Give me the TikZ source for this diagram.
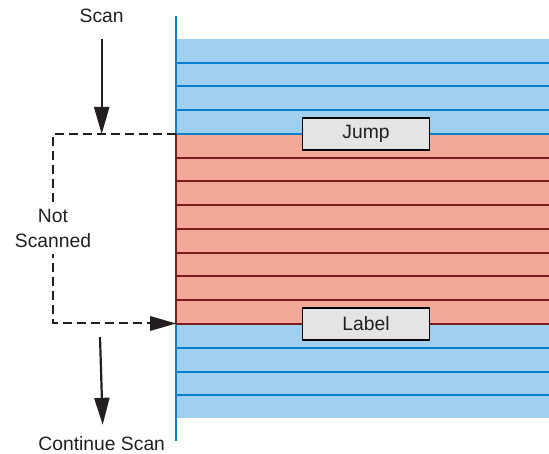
\documentclass[tikz,border=0pt]{standalone}
\usepackage{fontspec}
\setmainfont{Liberation Sans}
\usetikzlibrary{arrows.meta}
\definecolor{bandblue}{HTML}{A0D0F0}
\definecolor{ruleblue}{HTML}{0A80CC}
\definecolor{bandred}{HTML}{F4A898}
\definecolor{rulered}{HTML}{7A1C1C}
\definecolor{boxgray}{HTML}{E4E4E4}
\definecolor{ink}{HTML}{231F20}
\begin{document}
\begin{tikzpicture}[x=1pt,y=-1pt,
  lbl/.style={font=\fontsize{19.3}{25}\selectfont, text=ink, inner sep=0pt, align=center},
  tag/.style={draw=black, line width=1.5pt, fill=boxgray, minimum width=127pt,
              minimum height=32pt, inner sep=0pt, font=\fontsize{19.3}{22}\selectfont, text=ink},
  bigarrow/.style={-{Triangle[length=27pt,width=15pt]}, line width=2.2pt, draw=ink},
  skip/.style={dash pattern=on 9pt off 5pt, line width=2pt, draw=ink},
  bluerule/.style={draw=ruleblue, line width=2pt},
  redrule/.style={draw=rulered, line width=2pt}]
\useasboundingbox (0,0) rectangle (549,454);

% memory bands
\fill[bandblue] (176,39) rectangle (549,134);
\fill[bandred] (176,134) rectangle (549,324);
\fill[bandblue] (176,324) rectangle (549,418);
\foreach \y in {62.7,86.3,110,134,347.8,371.5,395.2}
  \draw[bluerule] (176,\y) -- (549,\y);
\draw[draw=ruleblue, line width=2.3pt] (176,16) -- (176,441);
\foreach \y in {157.75,181.5,205.25,229,252.75,276.5,300.25,324}
  \draw[redrule] (176,\y) -- (549,\y);
\draw[redrule] (176,134) -- (176,324);

% skipped region markers
\node[tag] (jump) at (366,134) {Jump};
\node[tag] (label) at (366,324) {Label};

% bypass path
\coordinate (jumpin) at (176,134);
\coordinate (bypass) at (53,134);
\coordinate (landing) at (176,323.5);
\draw[skip] (jumpin) -- (bypass) |- (landing);
\fill[ink] (landing) -- ++(-26,-7.5) -- ++(0,15) -- cycle;
\node[lbl, fill=white, inner sep=7pt] (notscanned) at (53,228) {Not\\Scanned};

% scan direction
\node[lbl, anchor=base] (scan) at (101.7,23) {Scan};
\coordinate (scanfrom) at (101.7,39);
\draw[bigarrow] (scanfrom) -- (scanfrom |- jumpin);

\node[lbl, anchor=base] (cont) at (101.7,450) {Continue Scan};
\coordinate (contfrom) at (100,337);
\draw[bigarrow] (contfrom) -- ([shift={(1,-11)}]cont.north);
\end{tikzpicture}
\end{document}
